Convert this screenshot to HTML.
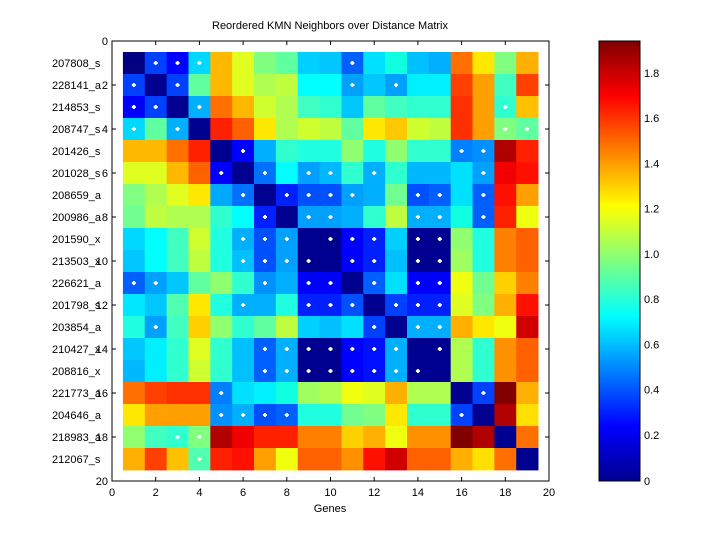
<!DOCTYPE html>
<html><head><meta charset="utf-8"><style>
body{margin:0;background:#fff;}
svg text{font-family:"Liberation Sans",sans-serif;font-size:11px;fill:#000;}
</style></head><body>
<svg id="s" width="720" height="540" xmlns="http://www.w3.org/2000/svg">
<defs>
<linearGradient id="jet" x1="0" y1="1" x2="0" y2="0">
<stop offset="0" stop-color="#00008f"/>
<stop offset="0.125" stop-color="#0000ff"/>
<stop offset="0.375" stop-color="#00ffff"/>
<stop offset="0.625" stop-color="#ffff00"/>
<stop offset="0.875" stop-color="#ff0000"/>
<stop offset="1" stop-color="#800000"/>
</linearGradient>
</defs>
<rect width="720" height="540" fill="#fff"/>
<g id="cells"></g>
<rect x="112" y="41" width="437" height="440" fill="none" stroke="#000" stroke-width="1"/>
<g id="ax"></g>
<text x="330" y="29" text-anchor="middle">Reordered KMN Neighbors over Distance Matrix</text>
<text x="330" y="512" text-anchor="middle">Genes</text>
<rect x="599" y="41" width="41" height="440" fill="url(#jet)" stroke="#000" stroke-width="1"/>
</svg>
<script>
(function(){
var R=[
"000080 *0040ff *0000ff *00d8ff ffb800 e0ff20 80ff80 60ffa0 00d0ff 00c8ff *0060ff 00e0ff 10ffe0 00c0ff 00b0ff ff7000 ffe800 80ff80 ffb000",
"*0040ff 000090 *0040ff 60ffa0 ffb800 e0ff20 b0ff50 c0ff40 00ffff 00ffff *00a0ff 00c8ff *00a0ff 00f0ff 00f0ff ff4000 ffa000 40ffc0 ff4000",
"*0000ff *0040ff 000090 *00b0ff ff7000 ffb800 d0ff30 b0ff50 40ffc0 30ffd0 00c8ff 60ffa0 40ffc0 30ffd0 30ffd0 ff3000 ffa000 *30ffd0 ffc000",
"*00d8ff 60ffa0 *00b0ff 000090 ff2000 ff6000 ffe800 b0ff50 d0ff30 c0ff40 60ffa0 ffe800 ffc800 d0ff30 c0ff40 ff3000 ffa000 *80ff80 *60ffa0",
"ffb800 ffb800 ff7000 ff2000 000090 *0000ff 00b0ff 30ffd0 20ffe0 20ffe0 90ff70 20ffe0 90ff70 30ffd0 30ffd0 *0080ff *0090ff b00000 ff2000",
"e0ff20 e0ff20 ffb800 ff6000 *0000ff 000090 *0070ff 00ffff *00a0ff *00b8ff 30ffd0 *00b0ff 30ffd0 00b8ff 00b8ff 00e0ff *00a0ff f00000 ff1000",
"80ff80 b0ff50 e0ff20 ffe800 00a8ff *0070ff 000090 *0020ff *0050ff *0050ff *00a0ff 00b0ff 70ff90 *0050ff *0060ff 00e0ff *0060ff ff1000 ffa000",
"70ff90 c0ff40 b0ff50 b0ff50 30ffd0 00ffff *0020ff 000090 *00a0ff *00a0ff 00b0ff 30ffd0 c0ff40 *00b0ff *00b0ff 10ffe0 *0060ff ff2000 f0ff10",
"00d8ff 00ffff 40ffc0 d0ff30 20ffe0 *00b0ff *0050ff *00a0ff 000090 *000090 *0000ff *0020ff 00d0ff *000090 *000090 90ff70 20ffe0 ff8000 ff6000",
"00c8ff 00ffff 40ffc0 c0ff40 20ffe0 *00c0ff *0050ff *00a0ff *000090 000090 *0000ff *0020ff 00c0ff *000090 *000090 a0ff60 20ffe0 ff8000 ff6000",
"*0060ff *00a0ff 00c8ff 60ffa0 90ff70 30ffd0 *0090ff 00b0ff *0000ff *0000ff 000090 *0060ff 00e0ff *0000ff *0000ff f0ff10 70ff90 ffd000 ff8000",
"00e8ff 00c8ff 50ffb0 ffe800 20ffe0 *00b0ff 00b0ff 20ffe0 *0020ff *0020ff *0050ff 000090 *0040ff *0020ff *0020ff e0ff20 80ff80 ffb000 ff1000",
"20ffe0 *00a0ff 40ffc0 ffd000 90ff70 30ffd0 60ffa0 c0ff40 00d0ff 00c0ff 00e0ff *0040ff 000090 *00b0ff *00b0ff ffb000 ffe800 f0ff10 d00000",
"00c8ff 00f0ff 30ffd0 e0ff20 30ffd0 00c0ff *0060ff *00b0ff *000090 *000090 *0000ff *0010ff *00b0ff 000090 *000090 b0ff50 30ffd0 ff9000 ff6000",
"00b8ff 00f0ff 30ffd0 d0ff30 30ffd0 00c0ff *0060ff *00b0ff *000090 *000090 *0000ff *0010ff *00b0ff *000090 000090 b0ff50 30ffd0 ff9000 ff6000",
"ff7000 ff4000 ff3000 ff3000 *0080ff 00e0ff 00f0ff 10ffe0 a0ff60 b0ff50 f0ff10 e0ff20 ffb000 b0ff50 b0ff50 000090 *0040ff 800000 ffb000",
"ffe800 ffa000 ffa000 ffa000 *0090ff *00b0ff *0050ff *0060ff 20ffe0 20ffe0 70ff90 80ff80 ffe800 30ffd0 30ffd0 *0040ff 000090 b00000 ffe000",
"90ff70 40ffc0 *30ffd0 *80ff80 b00000 f00000 ff2000 ff2000 ff8000 ff8000 ffd000 ffb000 f0ff10 ff9000 ff9000 800000 b00000 000090 ff7000",
"ffb000 ff4000 ffc000 *50ffb0 ff2000 ff1000 ffa000 f0ff10 ff6000 ff6000 ff9000 ff1000 d00000 ff6000 ff6000 ffb000 ffe000 ff7000 000090"];
var names=["207808_s","228141_a","214853_s","208747_s","201426_s","201028_s","208659_a","200986_a","201590_x","213503_x","226621_a","201798_s","203854_a","210427_x","208816_x","221773_a","204646_a","218983_a","212067_s"];
var ns="http://www.w3.org/2000/svg";
function el(t,a,p,txt){var e=document.createElementNS(ns,t);for(var k in a)e.setAttribute(k,a[k]);if(txt!=null)e.textContent=txt;p.appendChild(e);return e;}
var g=document.getElementById("cells"),ax=document.getElementById("ax");
var X0=112,SX=437/20,Y0=41,SY=440/20;
for(var r=0;r<19;r++){var c=R[r].split(" ");for(var j=0;j<19;j++){var s=c[j],d=s[0]=="*";if(d)s=s.slice(1);
var x=X0+(j+0.5)*SX,y=Y0+(r+0.5)*SY;
el("rect",{x:x.toFixed(2),y:y.toFixed(2),width:(SX+0.4).toFixed(2),height:(SY+0.4).toFixed(2),fill:"#"+s},g);
if(d){var cx=x+SX/2,cy=y+SY/2;el("rect",{x:cx-2,y:cy-1,width:4,height:2,fill:"#fff"},g);el("rect",{x:cx-1,y:cy-2,width:2,height:4,fill:"#fff"},g);}
}}
for(var i=0;i<=20;i+=2){var x=X0+i*SX;
el("line",{x1:x,y1:481,x2:x,y2:477,stroke:"#000"},ax);el("line",{x1:x,y1:41,x2:x,y2:45,stroke:"#000"},ax);
el("text",{x:x,y:496,"text-anchor":"middle"},ax,String(i));
var y=Y0+i*SY;el("line",{x1:112,y1:y,x2:116,y2:y,stroke:"#000"},ax);el("line",{x1:549,y1:y,x2:545,y2:y,stroke:"#000"},ax);
el("text",{x:108,y:y+4,"text-anchor":"end"},ax,String(i));}
for(var r=0;r<19;r++){el("text",{x:52,y:Y0+(r+1)*SY+4},ax,names[r]);}
var cbTop=73,st=45.24;
for(var k=0;k<=9;k++){var v=(1.8-0.2*k),y=cbTop+k*st;
if(k<9){el("line",{x1:599,y1:y,x2:603,y2:y,stroke:"#000"},ax);el("line",{x1:640,y1:y,x2:636,y2:y,stroke:"#000"},ax);}
el("text",{x:644,y:(k==9?481:y)+4},ax,k==9?"0":v.toFixed(1));}
})();
</script>
</body></html>
